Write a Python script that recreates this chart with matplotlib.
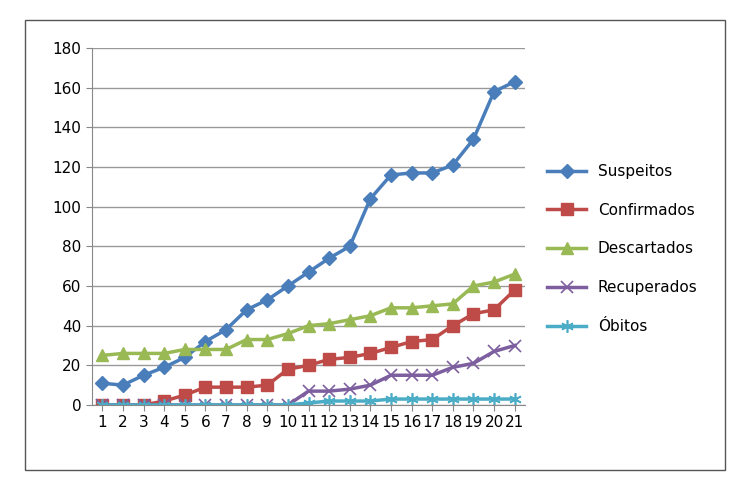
import matplotlib.pyplot as plt
import matplotlib.patches as mpatches

days = list(range(1, 22))
suspeitos = [11, 10, 15, 19, 24, 32, 38, 48, 53, 60, 67, 74, 80, 104, 116, 117, 117, 121, 134, 158, 163]
confirmados = [0, 0, 0, 2, 5, 9, 9, 9, 10, 18, 20, 23, 24, 26, 29, 32, 33, 40, 46, 48, 58]
descartados = [25, 26, 26, 26, 28, 28, 28, 33, 33, 36, 40, 41, 43, 45, 49, 49, 50, 51, 60, 62, 66]
recuperados = [0, 0, 0, 0, 0, 0, 0, 0, 0, 0, 7, 7, 8, 10, 15, 15, 15, 19, 21, 27, 30]
obitos = [0, 0, 0, 0, 0, 0, 0, 0, 0, 0, 1, 2, 2, 2, 3, 3, 3, 3, 3, 3, 3]

fig = plt.figure(figsize=(7.45, 5.0), dpi=100)
fig.patches.append(mpatches.Rectangle((25 / 745, 30 / 500), 700 / 745, 450 / 500, transform=fig.transFigure,
                                      fill=False, edgecolor='#555555', lw=1))
ax = fig.add_axes([92 / 745, 95 / 500, 433 / 745, 357 / 500])

ax.plot(days, suspeitos, marker='D', color='#4a7ebb', lw=2.5, ms=7, label='Suspeitos')
ax.plot(days, confirmados, marker='s', color='#be4b48', lw=2.5, ms=8, label='Confirmados')
ax.plot(days, descartados, marker='^', color='#98b954', lw=2.5, ms=9, label='Descartados')
ax.plot(days, recuperados, marker='x', color='#7d5fa0', lw=2.5, ms=9, mew=1.2, label='Recuperados')
ax.plot(days, obitos, marker=(6, 2, 0), color='#4bacc6', lw=2.5, ms=9, mew=1.2, label='Óbitos')

ax.set_xlim(0.5, 21.5)
ax.set_ylim(0, 180)
ax.set_yticks(range(0, 181, 20))
ax.set_xticks(days)
ax.tick_params(labelsize=11, direction='out', length=4, color='#888888')
ax.grid(axis='y', color='#999999', lw=1)
ax.set_axisbelow(True)
for s in ['top', 'right']:
    ax.spines[s].set_visible(False)
for s in ['left', 'bottom']:
    ax.spines[s].set_color('#888888')

ax.legend(loc='center left', bbox_to_anchor=(1.02, 0.437), frameon=False, fontsize=11,
          handlelength=2.5, labelspacing=1.55)
fig.savefig('out.png')
